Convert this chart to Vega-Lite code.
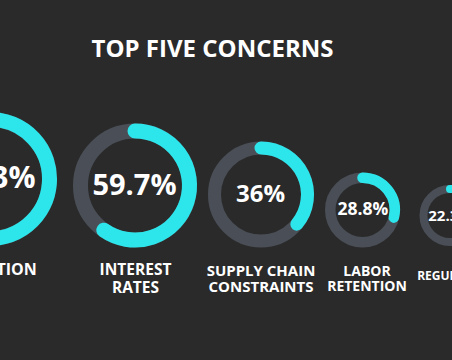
{
  "$schema": "https://vega.github.io/schema/vega-lite/v6.json",
  "width": 452,
  "height": 290,
  "autosize": {"type": "none"},
  "padding": {"top": 70, "left": 0, "right": 0, "bottom": 0},
  "background": "#2a2a2a",
  "config": {"view": {"stroke": null}},
  "title": {
    "text": "TOP FIVE CONCERNS",
    "font": "Open Sans",
    "fontSize": 24,
    "fontWeight": "bold",
    "color": "#ffffff",
    "anchor": "middle",
    "dx": -13.5,
    "dy": 18,
    "baseline": "alphabetic",
    "offset": 7
  },
  "data": {
    "values": [
      {"rank": 1, "concern": "Inflation", "value": 78.3, "pct": "78.3%", "line1": "INFLATION", "line2": ""},
      {"rank": 2, "concern": "Interest rates", "value": 59.7, "pct": "59.7%", "line1": "INTEREST", "line2": "RATES"},
      {"rank": 3, "concern": "Supply chain constraints", "value": 36, "pct": "36%", "line1": "SUPPLY CHAIN", "line2": "CONSTRAINTS"},
      {"rank": 4, "concern": "Labor retention", "value": 28.8, "pct": "28.8%", "line1": "LABOR", "line2": "RETENTION"},
      {"rank": 5, "concern": "Regulation", "value": 22.3, "pct": "22.3%", "line1": "REGULATION", "line2": ""}
    ]
  },
  "layer": [
    {
      "mark": {"type": "arc", "filled": false, "stroke": "#4a4f57", "strokeJoin": "round"},
      "encoding": {
        "x": {"field": "rank", "type": "quantitative", "axis": null, "scale": {"domain": [1, 2, 3, 4, 5], "range": [-10, 135, 261, 362.5, 450], "nice": false, "zero": false}},
        "y": {"field": "rank", "type": "quantitative", "axis": null, "scale": {"domain": [1, 2, 3, 4, 5], "range": [109, 115.5, 124.5, 140, 145.5], "nice": false, "zero": false}},
        "theta": {"datum": 0, "type": "quantitative", "scale": {"domain": [0, 100], "range": [0, 6.283185307]}},
        "theta2": {"datum": 100},
        "radius": {"field": "rank", "type": "quantitative", "scale": {"type": "linear", "domain": [1, 2, 3, 4, 5], "range": [59.5, 54.5, 46.5, 32.25, 26.5], "zero": false, "nice": false}},
        "radius2": {"field": "rank"},
        "strokeWidth": {"field": "rank", "type": "quantitative", "legend": null, "scale": {"type": "linear", "domain": [1, 2, 3, 4, 5], "range": [15, 15, 13, 10.5, 8], "zero": false}}
      }
    },
    {
      "mark": {"type": "arc", "filled": false, "stroke": "#2de6eb", "strokeJoin": "round"},
      "encoding": {
        "x": {"field": "rank", "type": "quantitative", "axis": null, "scale": {"domain": [1, 2, 3, 4, 5], "range": [-10, 135, 261, 362.5, 450], "nice": false, "zero": false}},
        "y": {"field": "rank", "type": "quantitative", "axis": null, "scale": {"domain": [1, 2, 3, 4, 5], "range": [109, 115.5, 124.5, 140, 145.5], "nice": false, "zero": false}},
        "theta": {"field": "value", "type": "quantitative", "stack": null, "scale": {"domain": [0, 100], "range": [0, 6.283185307]}},
        "theta2": {"datum": 0},
        "radius": {"field": "rank", "type": "quantitative", "scale": {"type": "linear", "domain": [1, 2, 3, 4, 5], "range": [59.5, 54.5, 46.5, 32.25, 26.5], "zero": false, "nice": false}},
        "radius2": {"field": "rank"},
        "strokeWidth": {"field": "rank", "type": "quantitative", "legend": null, "scale": {"type": "linear", "domain": [1, 2, 3, 4, 5], "range": [15, 15, 13, 10.5, 8], "zero": false}}
      }
    },
    {
      "mark": {"type": "text", "font": "Open Sans", "fontWeight": "bold", "color": "#ffffff", "align": "center", "baseline": "middle"},
      "encoding": {
        "x": {"field": "rank", "type": "quantitative", "axis": null, "scale": {"domain": [1, 2, 3, 4, 5], "range": [-8, 134.5, 260.5, 363, 450], "nice": false, "zero": false}},
        "y": {"field": "rank", "type": "quantitative", "axis": null, "scale": {"domain": [1, 2, 3, 4, 5], "range": [109, 115.5, 124.5, 140, 145.5], "nice": false, "zero": false}},
        "text": {"field": "pct"},
        "size": {"field": "rank", "type": "quantitative", "legend": null, "scale": {"type": "linear", "domain": [1, 2, 3, 4, 5], "range": [30, 29, 24, 17.5, 15], "zero": false}}
      }
    },
    {
      "mark": {"type": "text", "font": "Open Sans", "fontWeight": "bold", "color": "#ffffff", "align": "center", "baseline": "alphabetic"},
      "encoding": {
        "x": {"field": "rank", "type": "quantitative", "axis": null, "scale": {"domain": [1, 2, 3, 4, 5], "range": [-7, 135.5, 261, 367, 456], "nice": false, "zero": false}},
        "y": {"field": "rank", "type": "quantitative", "axis": null, "scale": {"domain": [1, 2, 3, 4, 5], "range": [205, 205, 205.5, 206, 210], "nice": false, "zero": false}},
        "text": {"field": "line1"},
        "size": {"field": "rank", "type": "quantitative", "legend": null, "scale": {"type": "linear", "domain": [1, 2, 3, 4, 5], "range": [16, 15.5, 15, 14, 12], "zero": false}}
      }
    },
    {
      "mark": {"type": "text", "font": "Open Sans", "fontWeight": "bold", "color": "#ffffff", "align": "center", "baseline": "alphabetic"},
      "encoding": {
        "x": {"field": "rank", "type": "quantitative", "axis": null, "scale": {"domain": [1, 2, 3, 4, 5], "range": [-7, 135.5, 261, 367, 456], "nice": false, "zero": false}},
        "y": {"field": "rank", "type": "quantitative", "axis": null, "scale": {"domain": [1, 2, 3, 4, 5], "range": [223, 223.3, 221.7, 220.7, 220], "nice": false, "zero": false}},
        "text": {"field": "line2"},
        "size": {"field": "rank", "type": "quantitative", "legend": null, "scale": {"type": "linear", "domain": [1, 2, 3, 4, 5], "range": [16, 15.5, 15, 14, 12], "zero": false}}
      }
    }
  ],
  "resolve": {"scale": {"x": "independent", "y": "independent", "size": "independent"}}
}
